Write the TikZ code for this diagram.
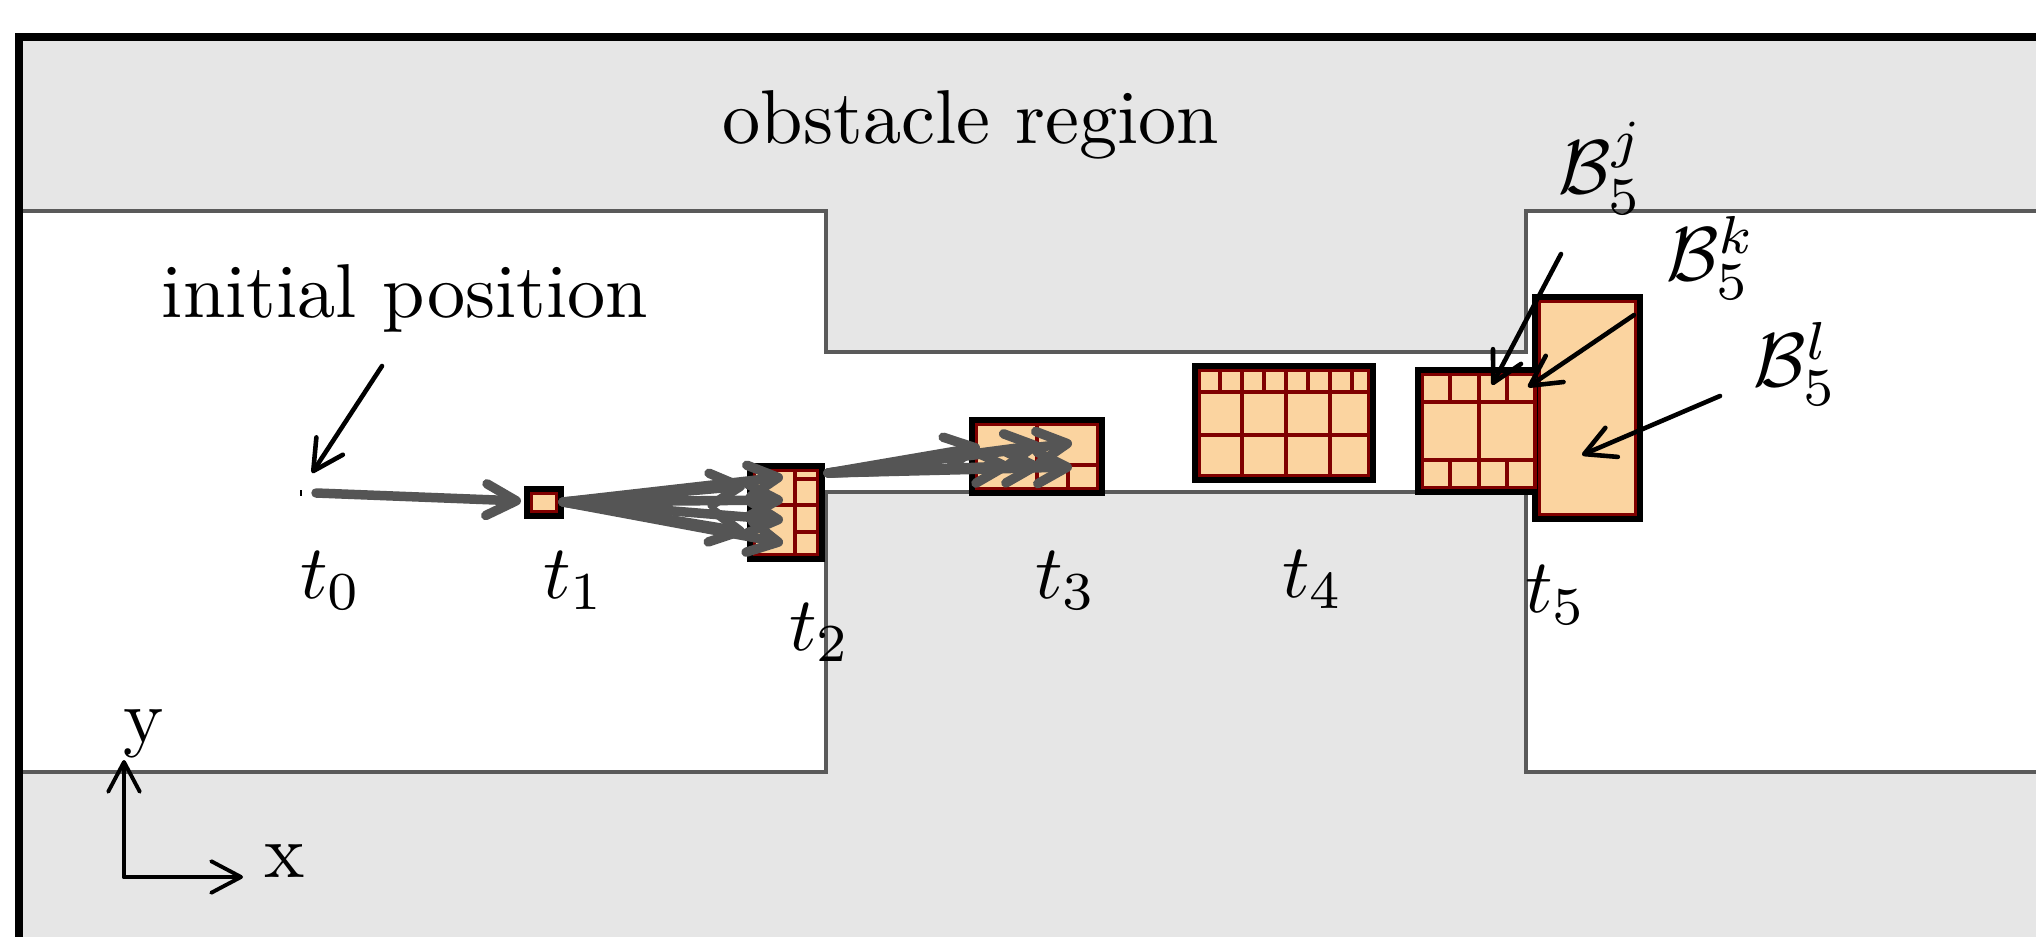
\documentclass[tikz,border=0pt]{standalone}
\usetikzlibrary{arrows.meta}
\definecolor{obst}{RGB}{230,230,230}
\definecolor{wallc}{RGB}{90,90,90}
\definecolor{peach}{RGB}{251,212,160}
\definecolor{cellred}{RGB}{128,0,0}
\definecolor{arrg}{RGB}{85,85,85}
\begin{document}
\begin{tikzpicture}[x=0.01cm,y=-0.01cm,
  txt/.style={font=\normalsize, scale=2.17, inner sep=0pt, anchor=base},
  wallline/.style={draw=wallc, line width=1.2pt},
  cellgrid/.style={draw=cellred, line width=1.1pt},
  boxedge/.style={draw=black, line width=1.5pt},
  barb/.style={-{Straight Barb[length=8.5pt,width=9pt,round]}},
  traj/.style={barb, draw=arrg, line width=2.7pt, line cap=round},
  note/.style={barb, draw=black, line width=1.3pt, line cap=round},
  axis/.style={barb, draw=black, line width=1.1pt, line cap=round},
]
\useasboundingbox (0,0) rectangle (2036,937);
\clip (0,0) rectangle (2036,937);
% obstacle region and free space
\fill[obst] (19,37) rectangle (2100,1000);
\filldraw[fill=white, wallline] (19,211) -- (826,211) -- (826,352) -- (1526,352) -- (1526,211) -- (2100,211)
  -- (2100,772) -- (1526,772) -- (1526,492) -- (826,492) -- (826,772) -- (19,772) -- cycle;
\draw[line width=2pt] (19,37) rectangle (2100,1000);

% t0 point
\fill[black] (300,490) rectangle (302,496);
\coordinate (p0) at (316,493);

% t1 box
\fill[peach] (527,489) rectangle (561,516);
\draw[cellgrid] (531,493) rectangle (557,512);
\draw[boxedge] (527,489) rectangle (561,516);
\coordinate (p1in) at (521,501);
\coordinate (p1out) at (563,502);

% t2 box
\fill[peach] (750,466) rectangle (822,559);
\draw[cellgrid] (754,470) rectangle (818,555);
\draw[cellgrid] (795,470) -- (795,555) (754,505) -- (818,505) (795,479) -- (818,479) (795,532) -- (818,532);
\draw[boxedge] (750,466) rectangle (822,559);
\coordinate (p2out) at (828,473);

% t3 box
\fill[peach] (972,420) rectangle (1102,493);
\draw[cellgrid] (976,424) rectangle (1098,489);
\draw[cellgrid] (976,465) -- (1098,465) (1037,424) -- (1037,489) (1068,465) -- (1068,489);
\draw[boxedge] (972,420) rectangle (1102,493);

% t4 box
\fill[peach] (1195,366) rectangle (1373,480);
\draw[cellgrid] (1199,370) rectangle (1369,476);
\draw[cellgrid] (1199,392) -- (1369,392) (1199,435) -- (1369,435);
\foreach \x in {1242,1286,1330} \draw[cellgrid] (\x,370) -- (\x,476);
\foreach \x in {1220,1264,1308,1352} \draw[cellgrid] (\x,370) -- (\x,392);
\draw[boxedge] (1195,366) rectangle (1373,480);

% t5 big box
\fill[peach] (1535,297) rectangle (1640,519);
\draw[cellgrid] (1539,301) rectangle (1636,515);
\draw[boxedge] (1535,297) rectangle (1640,519);

% t5 small box
\fill[peach] (1418,370) rectangle (1537,492);
\draw[cellgrid] (1422,374) rectangle (1535,488);
\draw[cellgrid] (1422,402) -- (1535,402) (1422,460) -- (1535,460) (1479,374) -- (1479,488);
\foreach \x in {1450,1507} \draw[cellgrid] (\x,374) -- (\x,402) (\x,460) -- (\x,488);
\draw[boxedge] (1537,370) -- (1418,370) -- (1418,492) -- (1537,492);

% trajectory arrows
\draw[traj] (p0) -- (p1in);
\foreach \tx/\ty in {783/477, 745/486, 783/500, 783/520, 745/532, 783/543}
  \draw[traj] (p1out) -- (\tx,\ty);
\foreach \tx/\ty in {980/447, 1040/445, 1072/443, 1010/466, 1040/466, 1072/467}
  \draw[traj] (p2out) -- (\tx,\ty);

% labels
\node[txt] (obs) at (971,144) {obstacle region};
\node[txt] (init) at (405,318) {initial position};
\node[txt] (l0) at (331,598) {$t_0$};
\node[txt] (l1) at (574,598) {$t_1$};
\node[txt] (l2) at (820,650) {$t_2$};
\node[txt] (l3) at (1066,598) {$t_3$};
\node[txt] (l4) at (1313,597) {$t_4$};
\node[txt] (l5) at (1556,613) {$t_5$};
\node[txt] (bj) at (1601,194) {$\mathcal{B}_5^j$};
\node[txt] (bk) at (1711,281) {$\mathcal{B}_5^k$};
\node[txt] (bl) at (1796,387) {$\mathcal{B}_5^l$};

% annotation arrows
\coordinate (ia) at (382,366); \coordinate (ib) at (312,473);
\draw[note] (ia) -- (ib);
\coordinate (ja) at (1561,254); \coordinate (jb) at (1492,385);
\draw[note] (ja) -- (jb);
\coordinate (ka) at (1634,315); \coordinate (kb) at (1528,387);
\draw[note] (ka) -- (kb);
\coordinate (la) at (1720,396); \coordinate (lb) at (1582,455);
\draw[note] (la) -- (lb);

% axes
\coordinate (o) at (124,877);
\coordinate (ax) at (243,877);
\coordinate (ay) at (124,760);
\draw[axis] (o) -- (ax);
\draw[axis] (o) -- (ay);
\node[txt] (xl) at (285,877) {x};
\node[txt] (yl) at (144,742) {y};
\end{tikzpicture}
\end{document}
